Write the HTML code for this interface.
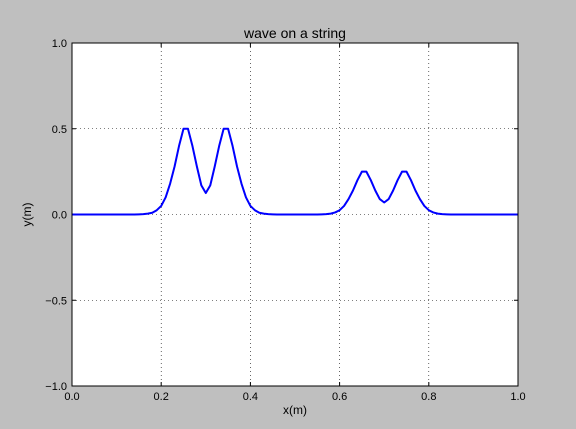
<!DOCTYPE html>
<html><head><meta charset="utf-8"><style>
body{margin:0;background:#bfbfbf;}
svg{display:block;font-family:"Liberation Sans","DejaVu Sans",sans-serif;}
</style></head><body>
<svg id="c" width="576" height="429"></svg>
<script>
const xTicks=[0.0,0.2,0.4,0.6,0.8,1.0];
const xTickLabels=["0.0","0.2","0.4","0.6","0.8","1.0"];
const yTicks=[-1.0,-0.5,0.0,0.5,1.0];
const yTickLabels=["\u22121.0","\u22120.5","0.0","0.5","1.0"];
const yValues=[0,0,0,0,0,0,0,0,0,0,0,0,0,0,0,
0.001,0.002,0.005,0.01,0.025,0.05,0.1,0.18,0.28,0.4,0.5,0.5,0.4,0.28,0.17,0.125,0.17,0.28,0.4,0.5,0.5,0.4,0.28,0.18,0.1,0.05,0.025,0.01,0.005,0.002,0.001,
0,0,0,0,0,0,0,0,0,0,
0.001,0.002,0.005,0.012,0.025,0.05,0.09,0.14,0.2,0.25,0.25,0.2,0.14,0.09,0.07,0.09,0.14,0.2,0.25,0.25,0.2,0.14,0.09,0.05,0.025,0.012,0.005,0.002,0.001,
0,0,0,0,0,0,0,0,0,0,0,0,0,0,0,0];
const xValues=yValues.map((_,i)=>i/100);
const L=72,R=518,T=43,B=386;
const sx=v=>L+(v-0)/(1-0)*(R-L);
const sy=v=>B-(v+1)/2*(B-T);
const svg=document.getElementById('c');
const NS='http://www.w3.org/2000/svg';
function mk(tag,attrs,parent){const e=document.createElementNS(NS,tag);for(const k in attrs)e.setAttribute(k,attrs[k]);(parent||svg).appendChild(e);return e;}
const bg=mk('rect',{x:L,y:T,width:R-L,height:B-T,fill:'#fff'});


xTicks.forEach((t,i)=>{
  const x=sx(t);
  const g=mk('line',{x1:x,x2:x,y1:T,y2:B,stroke:'#000','stroke-dasharray':'1,3','stroke-width':0.6});
  
  
  mk('line',{x1:x,x2:x,y1:B,y2:B-4,stroke:'#000'});
  mk('line',{x1:x,x2:x,y1:T,y2:T+4,stroke:'#000'});
  const tx=mk('text',{x:x,y:B+14,'text-anchor':'middle','font-size':11});
  tx.textContent=xTickLabels[i];
  
  
});
yTicks.forEach((t,i)=>{
  const y=sy(t);
  const g=mk('line',{x1:L,x2:R,y1:y,y2:y,stroke:'#000','stroke-dasharray':'1,3','stroke-width':0.6});
  
  
  mk('line',{x1:L,x2:L+4,y1:y,y2:y,stroke:'#000'});
  mk('line',{x1:R,x2:R-4,y1:y,y2:y,stroke:'#000'});
  const ty=mk('text',{x:L-5,y:y+4,'text-anchor':'end','font-size':11});
  ty.textContent=yTickLabels[i];
  
  
});
const d=xValues.map((x,i)=>(i?'L':'M')+sx(x).toFixed(2)+','+sy(yValues[i]).toFixed(2)).join(' ');
const line=mk('path',{d:d,fill:'none',stroke:'#0000ff','stroke-width':2,'stroke-linejoin':'round'});


const fr=mk('rect',{x:L,y:T,width:R-L,height:B-T,fill:'none',stroke:'#000','stroke-width':1});


const title=mk('text',{x:(L+R)/2,y:38,'text-anchor':'middle','font-size':14});
title.textContent='wave on a string';


const xl=mk('text',{x:(L+R)/2,y:414,'text-anchor':'middle','font-size':12});
xl.textContent='x(m)';


const yl=mk('text',{x:0,y:0,'text-anchor':'middle','font-size':12,transform:'translate(31,'+((T+B)/2)+') rotate(-90)'});
yl.textContent='y(m)';


</script>
</body></html>
